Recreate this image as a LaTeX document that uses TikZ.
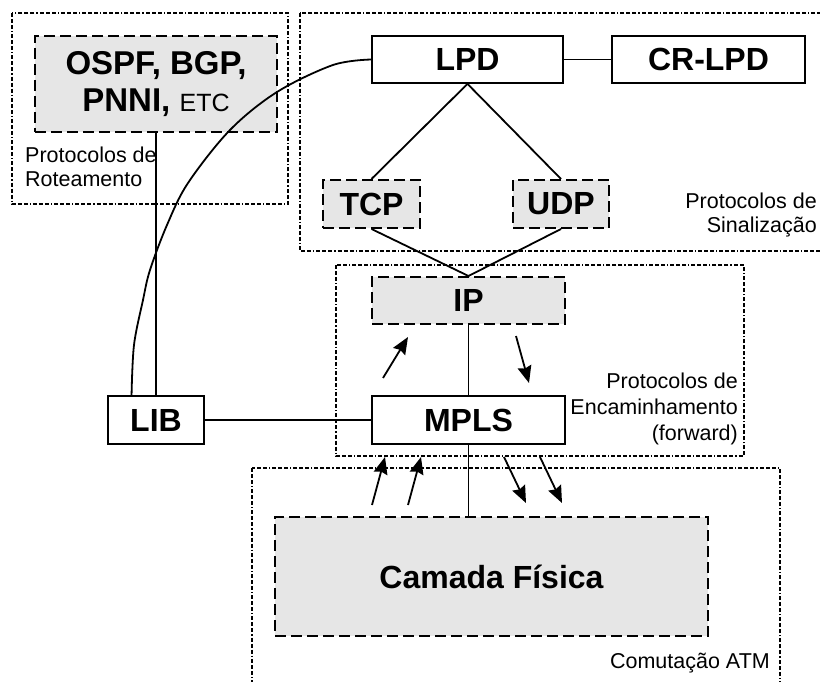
\documentclass[tikz,border=0pt]{standalone}
\usepackage{fontspec}
\setmainfont{Liberation Sans}
\usetikzlibrary{arrows.meta,calc}
\definecolor{grayfill}{RGB}{230,230,230}
\begin{document}
\begin{tikzpicture}[x=1pt,y=-1pt,
  solidbox/.style={draw, line width=1.8pt, fill=white, inner sep=0pt, font=\fontsize{32}{37}\selectfont\bfseries},
  graybox/.style={draw, line width=2pt, fill=grayfill, dash pattern=on 11pt off 5pt, inner sep=0pt, font=\fontsize{32}{37}\selectfont\bfseries},
  region/.style={line width=1.5pt, dash pattern=on 4pt off 2pt on 4pt off 2pt on 4pt off 2pt on 1.2pt off 2pt},
  conn/.style={line width=1.8pt},
  arr/.style={line width=1.8pt, -{Stealth[length=17pt,width=14pt,inset=2pt]}},
  lbl/.style={font=\fontsize{21.5}{25}\selectfont, inner sep=0pt}]
\useasboundingbox (0,0) rectangle (820,682);
\clip (0,0) rectangle (820,682);
\fill[white] (0,0) rectangle (820,682);

% region frames
\draw[region] (12,13) rectangle (288,204);
\draw[region] (300,13) rectangle (845,251);
\draw[region] (336,265) rectangle (744,456);
\draw[region] (252,468) rectangle (780,700);

% region labels
\node[lbl, anchor=base west] (rot1) at (25,163) {Protocolos de};
\node[lbl, anchor=base west] (rot2) at (25,187) {Roteamento};
\node[lbl, anchor=base east] (sin1) at (817,209) {Protocolos de};
\node[lbl, anchor=base east] (sin2) at (817,233) {Sinalização};
\node[lbl, anchor=base east] (enc1) at (738,388) {Protocolos de};
\node[lbl, anchor=base east] (enc2) at (738,414) {Encaminhamento\ };
\node[lbl, anchor=base east] (enc3) at (738,440) {(forward)};
\node[lbl, anchor=base east] (atm) at (770,668) {Comutação ATM};

% boxes
\node[graybox, minimum width=242, minimum height=96, align=center, font=\fontsize{33}{37}\selectfont\bfseries] (ospf) at (156,84)
  {OSPF, BGP,\\PNNI, {\mdseries\fontsize{25}{28}\selectfont ETC}};
\node[solidbox, minimum width=191, minimum height=47] (lpd) at (467.5,59.5) {LPD};
\node[solidbox, minimum width=193, minimum height=47] (crlpd) at (708.5,59.5) {CR-LPD};
\node[graybox, minimum width=97, minimum height=48] (tcp) at (371.5,204) {TCP};
\node[graybox, minimum width=96, minimum height=48] (udp) at (561,204) {UDP};
\node[graybox, minimum width=193, minimum height=47] (ip) at (468.5,300.5) {IP};
\node[solidbox, minimum width=193, minimum height=48] (mpls) at (468.5,420) {MPLS};
\node[solidbox, minimum width=96, minimum height=48] (lib) at (156,420) {LIB};
\node[graybox, minimum width=433, minimum height=119] (phy) at (491.5,576.5) {Camada Física};

% connectors
\coordinate (libtop) at ($(lib.north west)!0.25!(lib.north east)$);
\draw[conn] plot[smooth, tension=0.55] coordinates {(libtop) (134,345) (143,300) (150,270) (167,225) (188,183) (230,130) (277,92) (333,65) (lpd.west)};
\draw[conn] (ospf.south) -- (lib.north);
\draw[conn] (lpd.east) -- (crlpd.west);
\draw[conn] (lpd.south) -- (tcp.north);
\draw[conn] (lpd.south) -- (udp.north);
\draw[conn] (tcp.south) -- (ip.north);
\draw[conn] (udp.south) -- (ip.north);
\draw[conn] (ip.south) -- (mpls.north);
\draw[conn] (lib.east) -- (mpls.west);
\draw[conn] (mpls.south) -- (mpls.south |- phy.north);

% flow arrows
\coordinate (f1s) at (383,378); \coordinate (f1e) at (408,337);
\coordinate (f2s) at (516,336); \coordinate (f2e) at (529,383);
\coordinate (u1s) at (372,505); \coordinate (u1e) at (385,457);
\coordinate (u2s) at (408,505); \coordinate (u2e) at (421,457);
\coordinate (d1s) at (504,457); \coordinate (d1e) at (526,503);
\coordinate (d2s) at (540,457); \coordinate (d2e) at (562,503);
\draw[arr] (f1s) -- (f1e);
\draw[arr] (f2s) -- (f2e);
\draw[arr] (u1s) -- (u1e);
\draw[arr] (u2s) -- (u2e);
\draw[arr] (d1s) -- (d1e);
\draw[arr] (d2s) -- (d2e);
\end{tikzpicture}
\end{document}
